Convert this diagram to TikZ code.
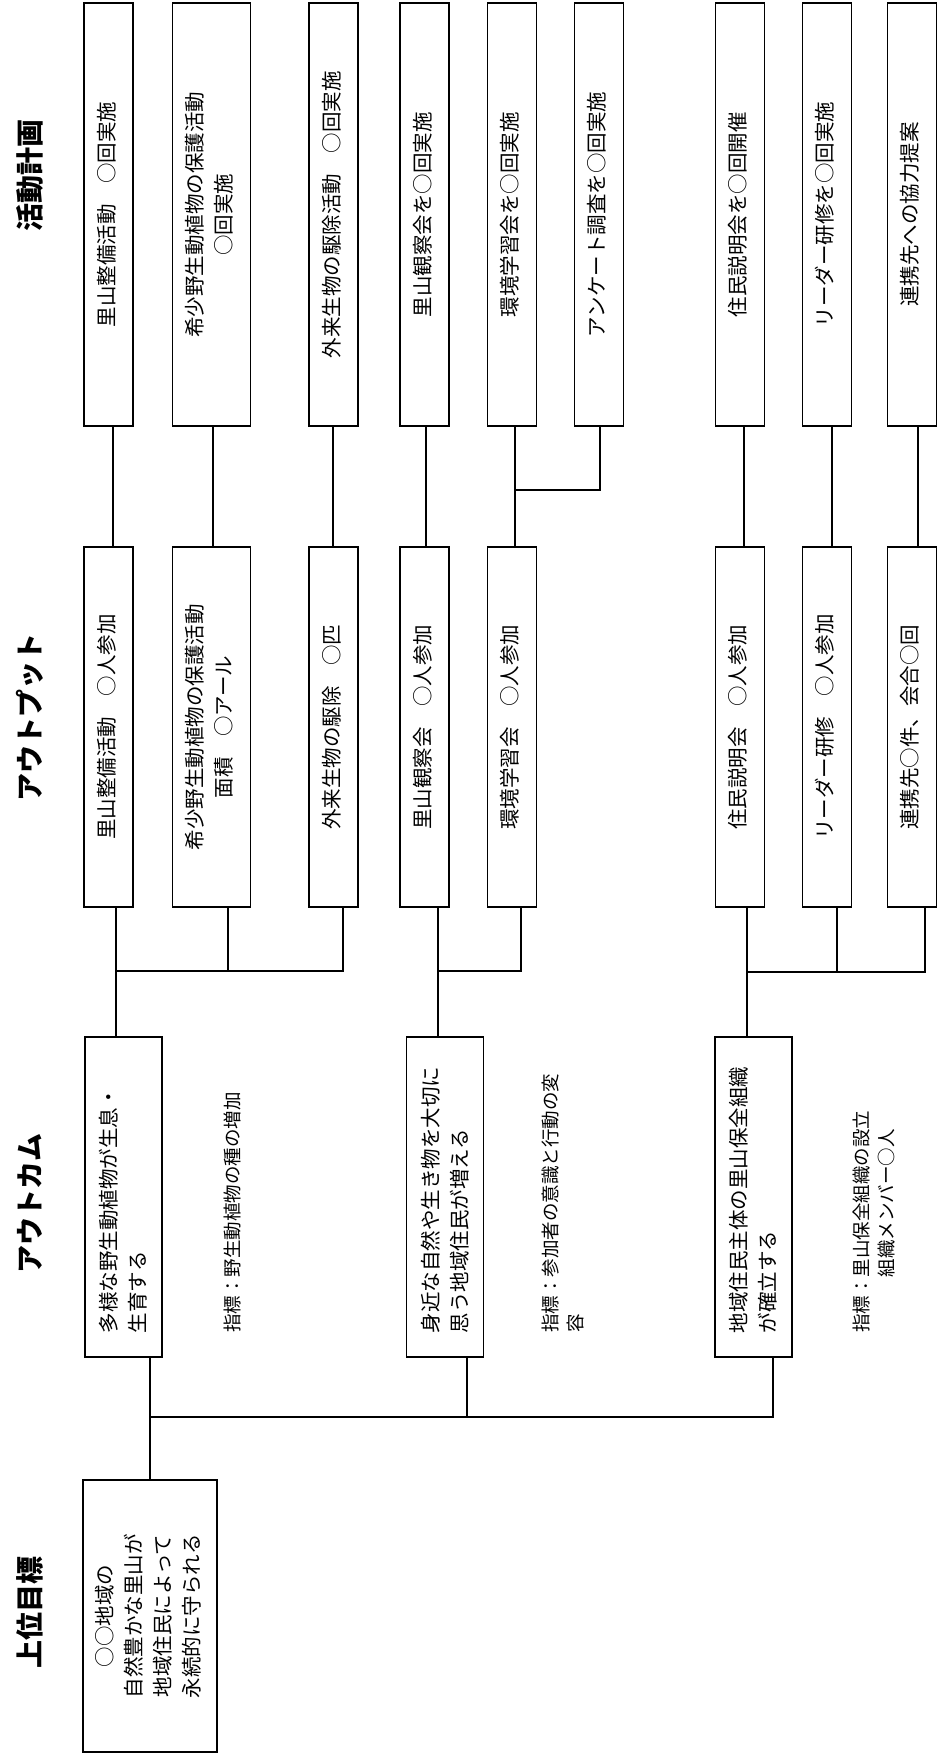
\documentclass[tikz,border=0pt]{standalone}
\usepackage{fontspec}
\usepackage{graphicx}
\setmainfont{Noto Sans CJK JP}
\usetikzlibrary{calc}
\newcommand{\rt}[1]{\rotatebox{90}{\begin{tabular}{@{}c@{}}#1\end{tabular}}}
\newcommand{\rl}[2]{\rotatebox{90}{\parbox{#1pt}{\raggedright #2}}}
\newcommand{\boxfnt}{\fontsize{20.5}{29}\selectfont}
\newcommand{\indfnt}{\fontsize{18.5}{25}\selectfont}
\newcommand{\hdrfnt}{\fontsize{28}{32}\selectfont\bfseries}
\tikzset{
  box/.style={draw, line width=1.8pt, inner sep=0pt, font=\boxfnt},
  conn/.style={line width=1.8pt},
  hdr/.style={rotate=90, inner sep=0pt, font=\hdrfnt},
  ind/.style={rotate=90, anchor=west, align=left, inner sep=0pt, font=\indfnt},
  act/.style={box, minimum height=423pt},
  outp/.style={box, minimum height=360pt},
  outc/.style={box, minimum width=77pt, minimum height=320pt},
}
\begin{document}
\begin{tikzpicture}[x=1pt, y=-1pt]
\useasboundingbox (0,0) rectangle (938,1757);

% headers
\node[hdr] (hA) at (30,175) {活動計画};
\node[hdr] (hB) at (30,717) {アウトプット};
\node[hdr] (hC) at (30,1203) {アウトカム};
\node[hdr] (hD) at (30,1612) {上位目標};

% activity row
\node[act, minimum width=49pt] (A) at (108.5,214.5) {\rt{里山整備活動　○回実施}};
\node[act, minimum width=78pt] (B) at (211.5,214.5) {\rt{希少野生動植物の保護活動\\○回実施}};
\node[act, minimum width=49pt] (C) at (333.5,214.5) {\rt{外来生物の駆除活動　○回実施}};
\node[act, minimum width=49pt] (D) at (424.5,214.5) {\rt{里山観察会を○回実施}};
\node[act, minimum width=49pt] (E) at (512,214.5) {\rt{環境学習会を○回実施}};
\node[act, minimum width=49pt] (F) at (599,214.5) {\rt{アンケート調査を○回実施}};
\node[act, minimum width=49pt] (G) at (740,214.5) {\rt{住民説明会を○回開催}};
\node[act, minimum width=49pt] (H) at (827,214.5) {\rt{リーダー研修を○回実施}};
\node[act, minimum width=49pt] (I) at (912,214.5) {\rt{連携先への協力提案}};

% output row
\node[outp, minimum width=49pt] (a) at (108.5,727) {\rt{里山整備活動　○人参加}};
\node[outp, minimum width=78pt] (b) at (211.5,727) {\rt{希少野生動植物の保護活動\\面積　○アール}};
\node[outp, minimum width=49pt] (c) at (333.5,727) {\rt{外来生物の駆除　○匹}};
\node[outp, minimum width=49pt] (d) at (424.5,727) {\rt{里山観察会　○人参加}};
\node[outp, minimum width=49pt] (e) at (512,727) {\rt{環境学習会　○人参加}};
\node[outp, minimum width=49pt] (f) at (740,727) {\rt{住民説明会　○人参加}};
\node[outp, minimum width=49pt] (g) at (827,727) {\rt{リーダー研修　○人参加}};
\node[outp, minimum width=49pt] (h) at (912,727) {\rt{連携先○件、会合○回}};

% outcome row
\node[outc] (o1) at (123.5,1197) {\rl{272}{多様な野生動植物が生息・\\生育する}};
\node[outc] (o2) at (445,1197) {\rl{272}{身近な自然や生き物を大切に\\思う地域住民が増える}};
\node[outc] (o3) at (753.5,1197) {\rl{272}{地域住民主体の里山保全組織\\が確立する}};

% indicators
\node[ind] (i1) at (232,1333) {指標：野生動植物の種の増加};
\node[ind] (i2) at (563,1333) {指標：参加者の意識と行動の変\\容};
\node[ind] (i3) at (874,1333) {指標：里山保全組織の設立\\\hspace*{3em}組織メンバー○人};

% top goal
\node[box, minimum width=134pt, minimum height=272pt] (top) at (150,1616) {\rt{○○地域の\\自然豊かな里山が\\地域住民によって\\永続的に守られる}};

% junctions
\coordinate (jEF) at (515,490);
\coordinate (j1) at (116,971);
\coordinate (j2) at (438,971);
\coordinate (j3) at (747,972);
\coordinate (jT) at (150,1417);

% activity -> output
\draw[conn] ([xshift=4.5pt]A.south) -- ([xshift=4.5pt]a.north);
\draw[conn] ([xshift=1.5pt]B.south) -- ([xshift=1.5pt]b.north);
\draw[conn] ([xshift=-0.5pt]C.south) -- ([xshift=-0.5pt]c.north);
\draw[conn] ([xshift=1.5pt]D.south) -- ([xshift=1.5pt]d.north);
\draw[conn] ([xshift=3pt]E.south) -- ([xshift=3pt]e.north);
\draw[conn] ([xshift=1pt]F.south) |- (jEF);
\draw[conn] ([xshift=4pt]G.south) -- ([xshift=4pt]f.north);
\draw[conn] ([xshift=5pt]H.south) -- ([xshift=5pt]g.north);
\draw[conn] ([xshift=6pt]I.south) -- ([xshift=6pt]h.north);

% output -> outcome
\draw[conn] ([xshift=7.5pt]a.south) -- ([xshift=7.5pt]a.south |- o1.north);
\draw[conn] ([xshift=16.5pt]b.south) |- (j1);
\draw[conn] ([xshift=9.5pt]c.south) |- (j1);
\draw[conn] ([xshift=13.5pt]d.south) -- ([xshift=13.5pt]d.south |- o2.north);
\draw[conn] ([xshift=9pt]e.south) |- (j2);
\draw[conn] ([xshift=7pt]f.south) -- ([xshift=7pt]f.south |- o3.north);
\draw[conn] ([xshift=10pt]g.south) |- (j3);
\draw[conn] ([xshift=13pt]h.south) |- (j3);

% outcome -> top
\draw[conn] ([xshift=26.5pt]o1.south) -- (top.north);
\draw[conn] ([xshift=22pt]o2.south) |- (jT);
\draw[conn] ([xshift=19.5pt]o3.south) |- (jT);
\end{tikzpicture}
\end{document}
